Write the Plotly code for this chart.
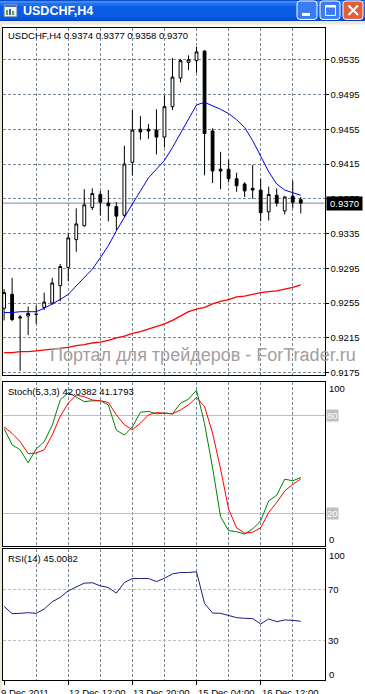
import plotly.graph_objects as go

W, H = 365, 694


def fx(p):
    return p / W


def fy(p):
    return 1 - p / H


# ---------------- data ----------------
symbol = "USDCHF,H4"
bars = list(range(38))

open_ = [0.9249, 0.9265, 0.9239, 0.9240, 0.9242, 0.9250, 0.9255, 0.9275, 0.9296, 0.9328,
         0.9344, 0.9365, 0.9380, 0.9370, 0.9366, 0.9356, 0.9417, 0.9455, 0.9455, 0.9454,
         0.9446, 0.9481, 0.9514, 0.9532, 0.9534, 0.9545, 0.9453, 0.9409, 0.9409, 0.9398,
         0.9392, 0.9387, 0.9385, 0.9360, 0.9379, 0.9361, 0.9378, 0.9374]
high = [0.9271, 0.9284, 0.9241, 0.9251, 0.9252, 0.9267, 0.9284, 0.9300, 0.9336, 0.9364,
        0.9386, 0.9387, 0.9384, 0.9385, 0.9371, 0.9436, 0.9477, 0.9470, 0.9461, 0.9478,
        0.9494, 0.9537, 0.9536, 0.9540, 0.9550, 0.9546, 0.9456, 0.9429, 0.9420, 0.9405,
        0.9394, 0.9414, 0.9398, 0.9389, 0.9387, 0.9378, 0.9396, 0.9377]
low = [0.9235, 0.9234, 0.9177, 0.9218, 0.9231, 0.9247, 0.9253, 0.9257, 0.9280, 0.9314,
       0.9343, 0.9362, 0.9356, 0.9349, 0.9339, 0.9354, 0.9402, 0.9443, 0.9444, 0.9426,
       0.9434, 0.9477, 0.9509, 0.9523, 0.9520, 0.9402, 0.9393, 0.9386, 0.9394, 0.9383,
       0.9377, 0.9375, 0.9349, 0.9350, 0.9366, 0.9357, 0.9364, 0.9358]
close = [0.9267, 0.9236, 0.9238, 0.9243, 0.9242, 0.9256, 0.9278, 0.9297, 0.9330, 0.9346,
         0.9368, 0.9381, 0.9371, 0.9367, 0.9355, 0.9415, 0.9454, 0.9452, 0.9453, 0.9446,
         0.9481, 0.9515, 0.9534, 0.9535, 0.9544, 0.9450, 0.9407, 0.9407, 0.9398, 0.9390,
         0.9384, 0.9385, 0.9359, 0.9380, 0.9370, 0.9377, 0.9371, 0.9370]

ma_fast = [0.9244, 0.9244, 0.9245, 0.9245, 0.9245, 0.9249, 0.9254, 0.9259, 0.9265, 0.9275,
           0.9284, 0.9294, 0.9307, 0.9321, 0.9338, 0.9354, 0.9369, 0.9384, 0.9399, 0.9409,
           0.9419, 0.9434, 0.9450, 0.9467, 0.9483, 0.9486, 0.9482, 0.9478, 0.9473, 0.9466,
           0.9457, 0.9442, 0.9424, 0.9406, 0.9392, 0.9385, 0.9382, 0.9379]
ma_slow = [0.9198, 0.9198, 0.9199, 0.9199, 0.9200, 0.9201, 0.9202, 0.9203, 0.9204, 0.9206,
           0.9207, 0.9209, 0.9210, 0.9212, 0.9215, 0.9217, 0.9220, 0.9222, 0.9225, 0.9228,
           0.9231, 0.9235, 0.9240, 0.9245, 0.9248, 0.9250, 0.9254, 0.9257, 0.9259, 0.9262,
           0.9263, 0.9265, 0.9267, 0.9268, 0.9269, 0.9271, 0.9273, 0.9276]

stoch_main = [72, 62, 59, 51, 59.5, 64, 74, 89.5, 94, 91, 88.5, 89, 89, 86.5, 71, 68, 73, 82,
              82.5, 81, 81.5, 81, 87.5, 90, 95.5, 75, 48, 18, 9.5, 8.8, 7.4, 10.5, 15.5, 27.7,
              31.2, 41, 40, 42.0382]
stoch_signal = [73, 69, 64, 56.7, 57, 59, 68, 79.5, 87.5, 92.5, 91.5, 89.5, 89, 88, 80.4, 74.3,
                71.3, 75.3, 80.4, 81.8, 81.4, 81, 83.4, 86.5, 91, 85.4, 69.3, 47.2, 22.6, 11.2,
                8, 8.5, 11.2, 20.6, 26.7, 33.8, 37.8, 41.1793]
rsi = [56.6, 50.9, 51.2, 51.7, 51.2, 54.5, 60.2, 63.6, 68.7, 71.9, 74.7, 75.0, 72.6, 71.3, 66.9,
       75.2, 78.3, 78.3, 78.3, 75.9, 78.5, 81.9, 83.0, 83.0, 83.5, 58.9, 51.4, 51.2, 49.6, 47.8,
       47.3, 47.1, 42.9, 46.8, 44.7, 46.0, 45.7, 45.0082]

price_ticks = [0.9175, 0.9215, 0.9255, 0.9295, 0.9335, 0.9375, 0.9415, 0.9455, 0.9495, 0.9535]
grid_bars = [4, 8, 12, 16, 20, 24, 28, 32, 36]
x_label_bars = [0, 8, 16, 24, 32]
x_labels = ["9 Dec 2011", "12 Dec 12:00", "13 Dec 20:00", "15 Dec 04:00", "16 Dec 12:00"]
stoch_levels = [20, 80]
rsi_levels = [30, 70]

# ---------------- style ----------------
FONT = "Liberation Sans"
FS = 9.5
GRID = "#778899"
DASH = "3px,2px"
LEVEL = "#C0C0C0"

L, R = 2.5, 324.5
MAIN = (28.5, 376.5)
STO = (383.5, 548.5)
RSI_P = (551.5, 682.5)

fig = go.Figure()

fig.add_trace(go.Candlestick(
    x=bars, open=open_, high=high, low=low, close=close,
    increasing=dict(line=dict(color="black", width=1), fillcolor="white"),
    decreasing=dict(line=dict(color="black", width=1), fillcolor="black"),
    whiskerwidth=0, hoverinfo="skip", showlegend=False, xaxis="x", yaxis="y"))
fig.add_trace(go.Scatter(x=bars, y=ma_fast, mode="lines", line=dict(color="#0000E0", width=1),
                         hoverinfo="skip", showlegend=False, xaxis="x", yaxis="y"))
fig.add_trace(go.Scatter(x=bars, y=ma_slow, mode="lines", line=dict(color="#FF0000", width=1.3),
                         hoverinfo="skip", showlegend=False, xaxis="x", yaxis="y"))
fig.add_trace(go.Scatter(x=bars, y=stoch_main, mode="lines", line=dict(color="#008000", width=1),
                         hoverinfo="skip", showlegend=False, xaxis="x2", yaxis="y2"))
fig.add_trace(go.Scatter(x=bars, y=stoch_signal, mode="lines", line=dict(color="#FF0000", width=1),
                         hoverinfo="skip", showlegend=False, xaxis="x2", yaxis="y2"))
fig.add_trace(go.Scatter(x=bars, y=rsi, mode="lines", line=dict(color="#1C1C84", width=1),
                         hoverinfo="skip", showlegend=False, xaxis="x3", yaxis="y3"))

xbase = dict(domain=[fx(L), fx(R)], range=[-0.2, 39.96], showline=True, mirror=True,
             linecolor="black", linewidth=1, tickmode="array", tickvals=grid_bars,
             showticklabels=False, ticks="", showgrid=True, gridcolor=GRID, griddash=DASH,
             gridwidth=1, zeroline=False, fixedrange=True)

fig.update_layout(
    width=W, height=H, autosize=False, margin=dict(l=0, r=0, t=0, b=0),
    paper_bgcolor="white", plot_bgcolor="white",
    font=dict(family=FONT, size=FS, color="black"),
    boxgap=0.5, showlegend=False,
    xaxis=dict(**xbase, anchor="y", rangeslider=dict(visible=False)),
    xaxis2=dict(**xbase, anchor="y2", matches="x"),
    xaxis3=dict(**xbase, anchor="y3", matches="x",
                minor=dict(tickmode="array", tickvals=x_label_bars, ticks="outside",
                           ticklen=4, tickcolor="black", showgrid=False)),
    yaxis=dict(domain=[fy(MAIN[1]), fy(MAIN[0])], range=[0.91723, 0.95711], anchor="x",
               side="right", tickmode="array", tickvals=price_ticks,
               ticktext=[f"{v:.4f}" for v in price_ticks], ticks="outside", ticklen=3,
               tickcolor="black", showline=True, mirror=True, linecolor="black",
               showgrid=True, gridcolor=GRID, griddash=DASH, zeroline=False, fixedrange=True),
    yaxis2=dict(domain=[fy(STO[1]), fy(STO[0])], range=[0, 100.6], anchor="x2", side="right",
                tickmode="array", tickvals=stoch_levels, showticklabels=False, ticks="",
                showline=True, mirror=True, linecolor="black", showgrid=True,
                gridcolor=LEVEL, zeroline=False, fixedrange=True),
    yaxis3=dict(domain=[fy(RSI_P[1]), fy(RSI_P[0])], range=[-0.4, 101.2], anchor="x3",
                side="right", tickmode="array", tickvals=rsi_levels, showticklabels=False,
                ticks="", showline=True, mirror=True, linecolor="black", showgrid=True,
                gridcolor=LEVEL, griddash=DASH, zeroline=False, fixedrange=True),
)

shapes = []


def rect(x0, y0, x1, y1, fill, line=None, lw=0):
    shapes.append(dict(type="rect", xref="paper", yref="paper", x0=fx(x0), x1=fx(x1),
                       y0=fy(y0), y1=fy(y1), fillcolor=fill,
                       line=dict(color=line or fill, width=lw), layer="above"))


def rrect(x0, y0, x1, y1, r, fill, line):
    X = lambda v: fx(v)
    Y = lambda v: fy(v)
    p = (f"M {X(x0+r)},{Y(y0)} L {X(x1-r)},{Y(y0)} Q {X(x1)},{Y(y0)} {X(x1)},{Y(y0+r)} "
         f"L {X(x1)},{Y(y1-r)} Q {X(x1)},{Y(y1)} {X(x1-r)},{Y(y1)} "
         f"L {X(x0+r)},{Y(y1)} Q {X(x0)},{Y(y1)} {X(x0)},{Y(y1-r)} "
         f"L {X(x0)},{Y(y0+r)} Q {X(x0)},{Y(y0)} {X(x0+r)},{Y(y0)} Z")
    shapes.append(dict(type="path", xref="paper", yref="paper", path=p, fillcolor=fill,
                       line=dict(color=line, width=1), layer="above"))


def seg(x0, y0, x1, y1, color, w):
    shapes.append(dict(type="line", xref="paper", yref="paper", x0=fx(x0), x1=fx(x1),
                       y0=fy(y0), y1=fy(y1), line=dict(color=color, width=w), layer="above"))


# window title bar (XP style)
rect(0, 0, W, 21, "#0A5BE6")
rect(0, 0, W, 1, "#0A4FD2")
rect(0, 1, W, 3, "#3C8AF6")
rect(0, 3, W, 6, "#1F6FEE")
rect(0, 17, W, 20, "#0753DA")
rect(0, 20, W, 21, "#0040BE")
rect(0, 21, W, 24.5, "#ECE9D8")
rect(0, 21, 2, H, "#ECE9D8")
# icon
rect(4, 4, 17, 17, "#F2F2F2", "#5A6E9A", 1)
rect(4.5, 4.5, 16.5, 7, "#3A6FD0")
seg(7, 15, 7, 10, "#2A8A2A", 1.5)
seg(10, 15, 10, 9, "#2A2A8A", 1.5)
seg(13, 15, 13, 11, "#2A8A2A", 1.5)
# buttons
rrect(297, 1, 317, 19.5, 3, "#3B7CF2", "white")
rrect(320, 1, 340, 19.5, 3, "#3B7CF2", "white")
rrect(343, 1, 363, 19.5, 3, "#E0603C", "white")
rect(302, 13, 310, 16, "white")
rect(325.5, 5.5, 335.5, 15.5, "rgba(0,0,0,0)", "white", 1)
rect(325.5, 5, 335.5, 7.5, "white")
seg(348.5, 5.5, 358, 15, "white", 2)
seg(348.5, 15, 358, 5.5, "white", 2)

# last price line
shapes.append(dict(type="line", xref="x domain", yref="y", x0=0, x1=1, y0=close[-1],
                   y1=close[-1], line=dict(color=GRID, width=1), layer="below"))

fig.update_layout(shapes=shapes)

ann = []


def text(x, y, s, size=FS, color="black", xanchor="left", yanchor="middle", **kw):
    ann.append(dict(x=x, y=y, text=s, showarrow=False, xanchor=xanchor, yanchor=yanchor,
                    font=dict(family=FONT, size=size, color=color), **kw))


text(fx(21), fy(11), f"<b>{symbol}</b>", size=12.5, color="white", xref="paper", yref="paper")
text(fx(6), fy(35.5),
     f"{symbol} {open_[-1]:.4f} {high[-1]:.4f} {low[-1]:.4f} {close[-1]:.4f}",
     xref="paper", yref="paper")
text(fx(6), fy(393), f"Stoch(5,3,3) {stoch_main[-1]:.4f} {stoch_signal[-1]:.4f}",
     xref="paper", yref="paper")
text(fx(6), fy(561), f"RSI(14) {rsi[-1]:.4f}", xref="paper", yref="paper")
text(fx(202.5), fy(357), "Портал для трейдеров - ForTrader.ru", size=18, color="#A69D9D",
     xanchor="center", xref="paper", yref="paper")

# current price box
text(fx(325.5), close[-1], f"{close[-1]:.4f}", color="white", xref="paper", yref="y",
     bgcolor="black", borderpad=1, width=33, align="center")

# stoch scale labels
text(fx(327), 100, "100", xref="paper", yref="y2", yshift=-6)
text(fx(325.5), stoch_levels[1], str(stoch_levels[1]), color="white", xref="paper", yref="y2",
     bgcolor=LEVEL, borderpad=0)
text(fx(325.5), stoch_levels[0], str(stoch_levels[0]), color="white", xref="paper", yref="y2",
     bgcolor=LEVEL, borderpad=0)
text(fx(327), 0, "0", xref="paper", yref="y2", yshift=7)
# rsi scale labels
text(fx(327), 100, "100", xref="paper", yref="y3", yshift=-5)
text(fx(325.5), rsi_levels[1], str(rsi_levels[1]), xref="paper", yref="y3")
text(fx(325.5), rsi_levels[0], str(rsi_levels[0]), xref="paper", yref="y3")
text(fx(327), 0, "0", xref="paper", yref="y3", yshift=5)

# time labels
for b, s in zip(x_label_bars, x_labels):
    text(b, fy(687.5), s, xref="x3", yref="paper", yanchor="top", xshift=(-5 if b == 0 else -1))

fig.update_layout(annotations=ann)

fig.write_html(
    "out.html",
    config={"displayModeBar": False, "staticPlot": True},
    post_script="document.body.style.margin='0';document.body.style.padding='0';"
                "document.body.style.overflow='hidden';"
                "document.documentElement.style.overflow='hidden';")
